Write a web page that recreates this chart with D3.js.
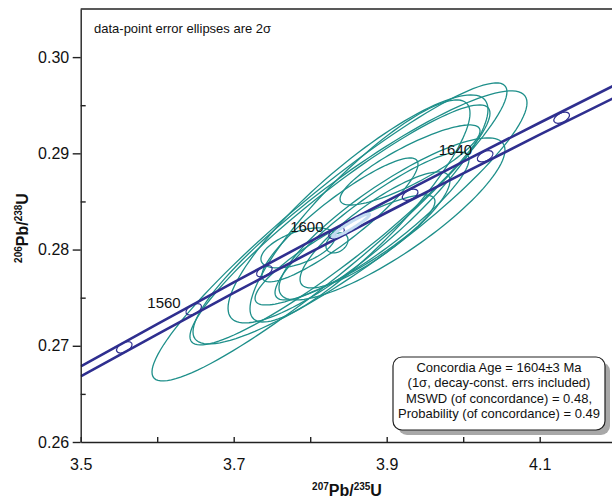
<!DOCTYPE html>
<html lang="en">
  <head>
    <meta charset="UTF-8" />
    <script src="https://d3js.org/d3.v7.min.js"></script>
    <title>Concordia</title>
    <style>
      body { margin: 0; background: #fff; }
      text { font-family: "Liberation Sans", Arial, sans-serif; fill: #111; }
    </style>
  </head>
  <body>
  </body>
</html>
<script>
const width = 612;
const height = 501;

// axis ticks
const xTicks = [3.5, 3.6, 3.7, 3.8, 3.9, 4.0, 4.1, 4.2];
const xLabels = [3.5, 3.7, 3.9, 4.1];
const yMajor = [0.26, 0.27, 0.28, 0.29, 0.30];
const yMinor = [0.265, 0.275, 0.285, 0.295];

// concordia band (error envelope)
const bandX     = [3.5, 3.6, 3.7, 3.8, 3.9, 4.0, 4.1, 4.2, 4.3];
const bandUpper = [0.26786, 0.27226, 0.27659, 0.28085, 0.28503, 0.28914, 0.29318, 0.29716, 0.30107];
const bandLower = [0.26682, 0.27118, 0.27549, 0.27971, 0.28385, 0.28792, 0.29194, 0.29588, 0.29975];

// age markers on concordia (Ma)
const markerAge = [1540, 1560, 1580, 1600, 1620, 1640, 1660];
const marker207 = [3.5570, 3.6477, 3.7401, 3.8344, 3.9306, 4.0287, 4.1287];
const marker206 = [0.26984, 0.27379, 0.27775, 0.28172, 0.28570, 0.28969, 0.29370];
const labelledAges = [1560, 1600, 1640];

// data-point ellipses: centre, 2 sigma errors, error correlation
const ell207 = [3.8252, 3.8651, 3.8625, 3.8651, 3.9069, 3.8808, 3.8847, 3.8350, 3.7840, 3.8389, 3.9305, 3.8455, 3.8389];
const ell206 = [0.28183, 0.28334, 0.28422, 0.28401, 0.28318, 0.28245, 0.28204, 0.28069, 0.28017, 0.28308, 0.28879, 0.27996, 0.28256];
const ellS7  = [0.2320, 0.2183, 0.1699, 0.1438, 0.1477, 0.1268, 0.0980, 0.0144, 0.0484, 0.1020, 0.0915, 0.1176, 0.1961];
const ellS6  = [0.01549, 0.01315, 0.01185, 0.01154, 0.00842, 0.00769, 0.00603, 0.00104, 0.00208, 0.00644, 0.00416, 0.00572, 0.01247];
const ellRho = [0.94, 0.905, 0.87, 0.88, 0.85, 0.90, 0.85, 0.3, 0.55, 0.90, 0.85, 0.88, 0.93];

// concordia age
const concAge = { x: 3.8535, y: 0.28250, sx: 0.0242, sy: 0.00120, rho: 0.95 };

const boxLines = [
  "Concordia Age = 1604\u00b13 Ma",
  "(1\u03c3, decay-const. errs included)",
  "MSWD (of concordance) = 0.48,",
  "Probability (of concordance) = 0.49"
];

const margin = { left: 80.7, top: 9, bottom: 442 };
const xScale = d3.scaleLinear().domain([3.5, 4.25]).range([margin.left, margin.left + 573.75]);
const yScale = d3.scaleLinear().domain([0.26, 0.305]).range([margin.bottom, margin.top]);

const navy = "#2f2f8f";
const teal = "#1e8f8a";

let svg = d3.select("body").append("svg")
  .attr("width", width)
  .attr("height", height);

svg.append("defs").append("clipPath").attr("id", "plotclip")
  .append("rect")
  .attr("x", margin.left).attr("y", margin.top)
  .attr("width", 700).attr("height", margin.bottom - margin.top);

let plot = svg.append("g").attr("clip-path", "url(#plotclip)");

function ellipsePoints(cx, cy, sx, sy, rho) {
  let pts = [];
  let k = Math.sqrt(1 - rho * rho);
  for (let i = 0; i < 120; i++) {
    let t = i / 120 * 2 * Math.PI;
    pts.push([cx + sx * Math.cos(t), cy + sy * (rho * Math.cos(t) + k * Math.sin(t))]);
  }
  return pts;
}

let ellLine = d3.line()
  .x(d => xScale(d[0]))
  .y(d => yScale(d[1]))
  .curve(d3.curveLinearClosed);

// data-point ellipses
ell207.forEach((cx, i) => {
  plot.append("path")
    .attr("d", ellLine(ellipsePoints(cx, ell206[i], ellS7[i], ellS6[i], ellRho[i])))
    .attr("fill", "none")
    .attr("stroke", teal)
    .attr("stroke-width", 1.3);
});

// concordia band
let bandLine = d3.line()
  .x(d => xScale(d[0]))
  .y(d => yScale(d[1]))
  .curve(d3.curveNatural);

[bandUpper, bandLower].forEach(arr => {
  plot.append("path")
    .attr("d", bandLine(bandX.map((x, i) => [x, arr[i]])))
    .attr("fill", "none")
    .attr("stroke", navy)
    .attr("stroke-width", 2.6);
});

// age markers
markerAge.forEach((age, i) => {
  let px = xScale(marker207[i]), py = yScale(marker206[i]);
  let j = i < markerAge.length - 1 ? i + 1 : i - 1;
  let ang = Math.atan2(yScale(marker206[j]) - py, xScale(marker207[j]) - px) * 180 / Math.PI;
  if (j < i) ang += 180;
  plot.append("ellipse")
    .attr("transform", `translate(${px},${py}) rotate(${ang})`)
    .attr("rx", 8.5).attr("ry", 4.6)
    .attr("fill", "none")
    .attr("stroke", navy)
    .attr("stroke-width", 1.2);
  if (labelledAges.includes(age)) {
    svg.append("text")
      .attr("x", px - 13)
      .attr("y", py - 1)
      .attr("text-anchor", "end")
      .style("font-size", "15px")
      .text(age);
  }
});

// concordia age ellipse
plot.append("path")
  .attr("d", ellLine(ellipsePoints(concAge.x, concAge.y, concAge.sx, concAge.sy, concAge.rho)))
  .attr("fill", "none")
  .attr("stroke", "#c4dcf2")
  .attr("stroke-width", 3);

// axes
let axisColor = "#222";
svg.append("g")
  .attr("transform", `translate(0,${margin.bottom})`)
  .call(d3.axisBottom(xScale).tickValues(xTicks).tickSize(-5).tickSizeOuter(0).tickPadding(16.5)
    .tickFormat(d => xLabels.some(v => Math.abs(v - d) < 1e-9) ? d3.format(".1f")(d) : ""))
  .call(g => g.selectAll("text").style("font-size", "16px").attr("fill", "#111"))
  .call(g => g.selectAll("line,path").attr("stroke", axisColor).attr("stroke-width", 1.4));

svg.append("g")
  .attr("transform", `translate(${margin.left},0)`)
  .call(d3.axisLeft(yScale).tickValues(yMajor).tickSize(8).tickSizeOuter(0).tickPadding(3.5)
    .tickFormat(d3.format(".2f")))
  .call(g => g.selectAll("text").style("font-size", "16px").attr("fill", "#111"))
  .call(g => g.selectAll("line,path").attr("stroke", axisColor).attr("stroke-width", 1.4));

svg.append("g")
  .attr("transform", `translate(${margin.left},0)`)
  .call(d3.axisLeft(yScale).tickValues(yMinor).tickSize(-5).tickFormat(""))
  .call(g => g.select(".domain").remove())
  .call(g => g.selectAll("line").attr("stroke", axisColor).attr("stroke-width", 1.4));

// top border
svg.append("line")
  .attr("x1", margin.left).attr("x2", width)
  .attr("y1", margin.top).attr("y2", margin.top)
  .attr("stroke", axisColor).attr("stroke-width", 1.4);

// note
svg.append("text")
  .attr("x", 94).attr("y", 33)
  .style("font-size", "13px")
  .text("data-point error ellipses are 2\u03c3");

// axis titles
let xt = svg.append("text")
  .attr("x", 347).attr("y", 496)
  .attr("text-anchor", "middle")
  .style("font-weight", "bold").style("font-size", "16px");
xt.append("tspan").style("font-size", "10px").attr("dy", -6).text("207");
xt.append("tspan").attr("dy", 6).text("Pb/");
xt.append("tspan").style("font-size", "10px").attr("dy", -6).text("235");
xt.append("tspan").attr("dy", 6).text("U");

let yt = svg.append("text")
  .attr("transform", "translate(28,228) rotate(-90)")
  .attr("text-anchor", "middle")
  .style("font-weight", "bold").style("font-size", "16px");
yt.append("tspan").style("font-size", "10px").attr("dy", -6).text("206");
yt.append("tspan").attr("dy", 6).text("Pb/");
yt.append("tspan").style("font-size", "10px").attr("dy", -6).text("238");
yt.append("tspan").attr("dy", 6).text("U");

// result box
let box = svg.append("g");
box.append("rect")
  .attr("x", 398).attr("y", 362).attr("width", 212).attr("height", 73)
  .attr("rx", 9).attr("fill", "#a8a8a8");
box.append("rect")
  .attr("x", 393).attr("y", 357).attr("width", 212).attr("height", 73)
  .attr("rx", 9).attr("fill", "#fff").attr("stroke", "#222").attr("stroke-width", 1.2);
box.selectAll("text.bl")
  .data(boxLines)
  .enter()
  .append("text")
  .attr("class", "bl")
  .attr("x", 499)
  .attr("y", (d, i) => 372 + i * 15.4)
  .attr("text-anchor", "middle")
  .style("font-size", "13px")
  .text(d => d);
</script>
